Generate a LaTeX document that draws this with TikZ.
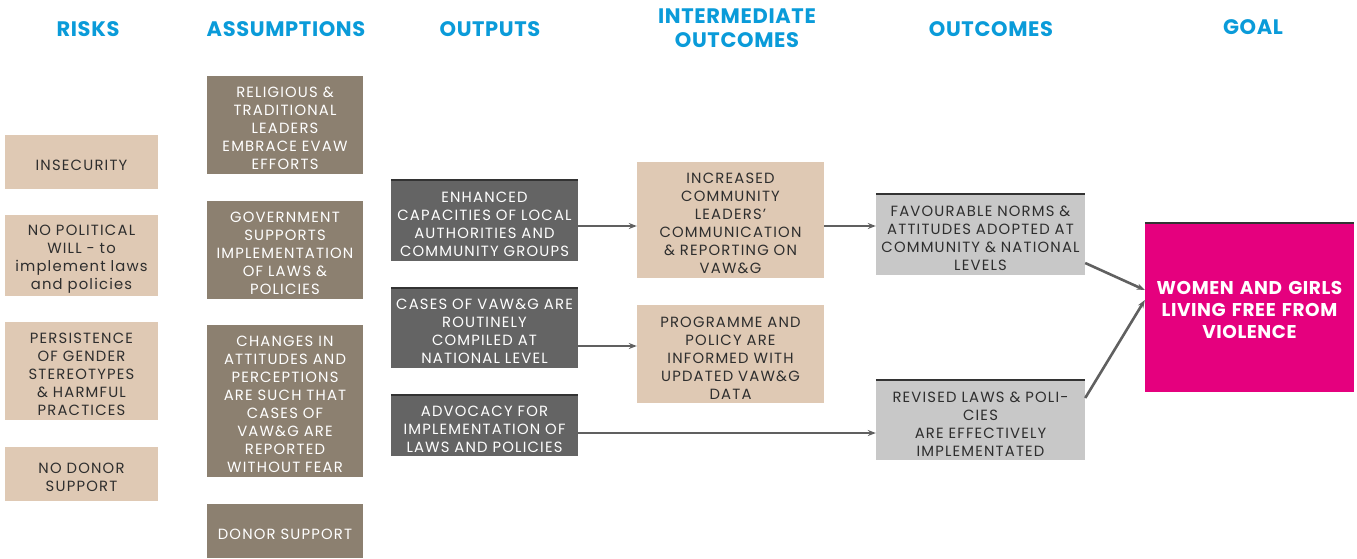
\documentclass[tikz,border=0pt]{standalone}
\usepackage{fontspec}
\setmainfont{Poppins}[LetterSpace=8]
\usetikzlibrary{arrows.meta}
\definecolor{hdblue}{HTML}{0A9BD9}
\definecolor{riskfill}{HTML}{DFC9B4}
\definecolor{assfill}{HTML}{8C8070}
\definecolor{outfill}{HTML}{646464}
\definecolor{ocfill}{HTML}{C8C8C8}
\definecolor{goalfill}{HTML}{E5007E}
\definecolor{arrgray}{HTML}{606060}
\definecolor{txtdark}{HTML}{2E2E2E}
\newcommand{\bx}{\fontsize{14.8}{18}\selectfont}
\tikzset{
  header/.style={font=\fontsize{21}{24}\selectfont\addfontfeature{LetterSpace=3}\bfseries, text=hdblue, align=center},
  box/.style={inner sep=0pt, align=center, font=\bx, execute at begin node={\rule{0pt}{18pt}}},
  riskbox/.style={box, fill=riskfill, text=txtdark, minimum width=153pt, text width=152pt},
  assbox/.style={box, fill=assfill, text=white, minimum width=156pt, text width=155pt},
  outbox/.style={box, fill=outfill, text=white, minimum width=187pt, text width=186pt},
  intbox/.style={box, fill=riskfill, text=txtdark, minimum width=187pt, text width=186pt},
  ocbox/.style={box, fill=ocfill, text=txtdark, minimum width=209pt, text width=208pt},
  goalbox/.style={box, fill=goalfill, text=white, minimum width=209pt, text width=206pt,
    font=\fontsize{18.5}{22}\selectfont\addfontfeature{LetterSpace=3}\bfseries},
  topline/.style={line width=2pt, draw=black!80},
  arr/.style={-{Stealth[length=8pt,width=6pt]}, line width=2.6pt, draw=arrgray}
}
\begin{document}
\begin{tikzpicture}[x=1pt,y=-1pt]
      \useasboundingbox (0,0) rectangle (1357,558);
      % column headers
      \node[header] (hrisk) at (88,29) {RISKS};
      \node[header] (hass)  at (286,29) {ASSUMPTIONS};
      \node[header] (hout)  at (490,29) {OUTPUTS};
      \node[header] (hint)  at (737,28) {INTERMEDIATE\\OUTCOMES};
      \node[header] (hoc)   at (991,29) {OUTCOMES};
      \node[header] (hgoal) at (1253,27) {GOAL};
      % risks
      \node[riskbox, minimum height=54pt] (ins)   at (81.5,162)   {INSECURITY};
      \node[riskbox, minimum height=81pt] (will)  at (81.5,255.5) {NO POLITICAL\\WILL - to\\implement laws\\and policies};
      \node[riskbox, minimum height=98pt] (pers)  at (81.5,371)   {PERSISTENCE\\OF GENDER\\STEREOTYPES\\\& HARMFUL\\PRACTICES};
      \node[riskbox, minimum height=54pt] (nodon) at (81.5,474)   {NO DONOR\\SUPPORT};
      % assumptions
      \node[assbox, minimum height=98pt]  (rel)  at (285,125) {RELIGIOUS \&\\TRADITIONAL\\LEADERS\\EMBRACE EVAW\\EFFORTS};
      \node[assbox, minimum height=98pt]  (gov)  at (285,250) {GOVERNMENT\\SUPPORTS\\IMPLEMENTATION\\OF LAWS \&\\POLICIES};
      \node[assbox, minimum height=152pt] (chg)  at (285,401) {CHANGES IN\\ATTITUDES AND\\PERCEPTIONS\\ARE SUCH THAT\\CASES OF\\VAW\&G ARE\\REPORTED\\WITHOUT FEAR};
      \node[assbox, minimum height=54pt]  (dsup) at (285,531) {DONOR SUPPORT};
      % outputs
      \node[outbox, minimum height=81pt] (enh)   at (484.5,220.5) {ENHANCED\\CAPACITIES OF LOCAL\\AUTHORITIES AND\\COMMUNITY GROUPS};
      \node[outbox, minimum height=80pt] (cases) at (484.5,328)   {CASES OF VAW\&G ARE\\ROUTINELY\\COMPILED AT\\NATIONAL LEVEL};
      \node[outbox, minimum height=61pt] (adv)   at (484.5,425.5) {ADVOCACY FOR\\IMPLEMENTATION OF\\LAWS AND POLICIES};
      % intermediate outcomes
      \node[intbox, minimum height=116pt] (incr) at (730.5,220) {INCREASED\\COMMUNITY\\LEADERS'\\COMMUNICATION\\\& REPORTING ON\\VAW\&G};
      \node[intbox, minimum height=98pt]  (prog) at (730.5,354) {PROGRAMME AND\\POLICY ARE\\INFORMED WITH\\UPDATED VAW\&G\\DATA};
      % outcomes
      \node[ocbox, minimum height=81pt] (fav) at (980.5,234.5) {FAVOURABLE NORMS \&\\ATTITUDES ADOPTED AT\\COMMUNITY \& NATIONAL\\LEVELS};
      \node[ocbox, minimum height=80pt] (rev) at (980.5,420)   {REVISED LAWS \& POLI-\\CIES\\ARE EFFECTIVELY\\IMPLEMENTATED};
      % goal
      \node[goalbox, minimum height=169pt] (goal) at (1249.5,307.5) {WOMEN AND GIRLS\\LIVING FREE FROM\\VIOLENCE\\[30pt]};
      \foreach \n in {enh,cases,adv,fav,rev,goal}
        \draw[topline] (\n.north west) -- (\n.north east);
      % links
      \draw[arr] ([yshift=-5.5pt]enh.east) -- ([yshift=-5.5pt]enh.east -| incr.west);
      \draw[arr] ([yshift=-18pt]cases.east) -- ([yshift=-18pt]cases.east -| prog.west);
      \draw[arr] ([yshift=-7.5pt]adv.east) -- ([yshift=-7.5pt]adv.east -| rev.west);
      \draw[arr] ([yshift=-6pt]incr.east) -- ([yshift=-6pt]incr.east -| fav.west);
      \draw[arr] ([yshift=-28.5pt]fav.east) -- ([yshift=17.5pt]goal.west);
      \draw[arr] ([yshift=22pt]rev.east) -- ([yshift=7.5pt]goal.west);
\end{tikzpicture}
\end{document}
